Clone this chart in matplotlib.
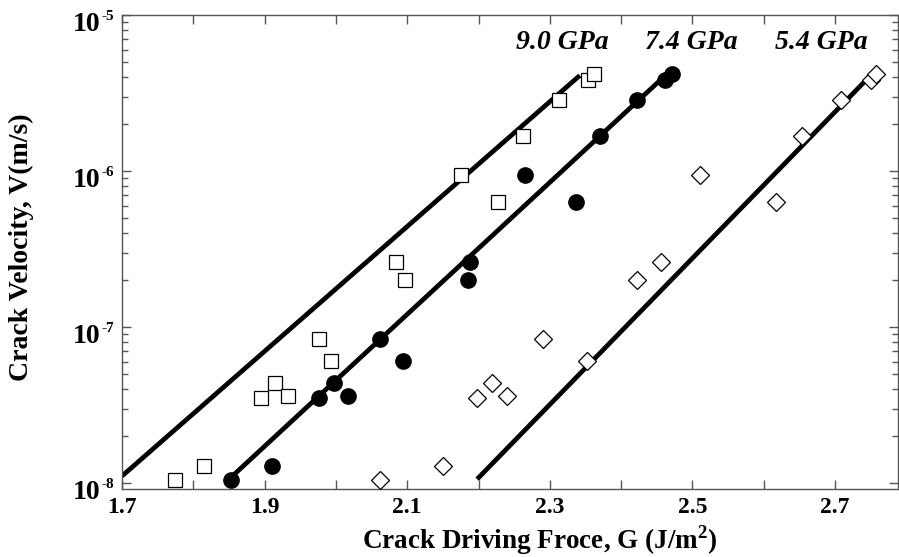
import matplotlib
matplotlib.use('Agg')

import matplotlib.pyplot as plt
import numpy as np
from matplotlib.ticker import FixedLocator, LogLocator, NullFormatter
from matplotlib.transforms import offset_copy

plt.rcParams['font.family'] = ['Liberation Serif', 'DejaVu Serif']
plt.rcParams['mathtext.fontset'] = 'custom'
plt.rcParams['mathtext.rm'] = 'Liberation Serif:bold'
plt.rcParams['mathtext.bf'] = 'Liberation Serif:bold'

# crack velocity (m/s), same set for every pressure
velocity = [1.05e-8, 1.29e-8, 3.5e-8, 4.4e-8, 3.6e-8, 8.4e-8, 6.1e-8, 2.6e-7,
            2.0e-7, 9.4e-7, 6.3e-7, 1.68e-6, 2.85e-6, 3.85e-6, 4.2e-6]

# crack driving force G (J/m^2) per pressure
g_90 = [1.774, 1.815, 1.895, 1.915, 1.933, 1.976, 1.993, 2.084,
        2.097, 2.175, 2.227, 2.262, 2.313, 2.353, 2.362]
g_74 = [1.853, 1.910, 1.976, 1.997, 2.017, 2.062, 2.094, 2.188,
        2.185, 2.265, 2.336, 2.370, 2.422, 2.461, 2.471]
g_54 = [2.062, 2.150, 2.198, 2.219, 2.240, 2.290, 2.352, 2.456,
        2.422, 2.510, 2.617, 2.653, 2.708, 2.750, 2.758]

# fitted lines (end points)
fit_90_g = [1.700, 2.342]
fit_90_v = [1.11e-8, 4.1e-6]
fit_74_g = [1.853, 2.462]
fit_74_v = [1.09e-8, 4.1e-6]
fit_54_g = [2.198, 2.752]
fit_54_v = [1.06e-8, 4.2e-6]

labels = ['9.0 GPa', '7.4 GPa', '5.4 GPa']
label_g = [2.318, 2.499, 2.680]

x_ticks = [1.7, 1.8, 1.9, 2.0, 2.1, 2.2, 2.3, 2.4, 2.5, 2.6, 2.7]
x_ticklabels = ['1.7', '', '1.9', '', '2.1', '', '2.3', '', '2.5', '', '2.7']
y_ticks = [1e-8, 1e-7, 1e-6, 1e-5]
y_exponents = ['-8', '-7', '-6', '-5']

fig = plt.figure(figsize=(8.99, 5.57), dpi=100)
ax = fig.add_axes([0.1357, 0.122, 0.863, 0.851])

line_kw = dict(color='black', linewidth=3.4, solid_capstyle='butt', zorder=2)
ax.plot(fit_90_g, fit_90_v, **line_kw)
ax.plot(fit_74_g, fit_74_v, **line_kw)
ax.plot(fit_54_g, fit_54_v, **line_kw)

ax.plot(g_90, velocity, linestyle='none', marker='s', markersize=9.5,
        markerfacecolor='white', markeredgecolor='black', markeredgewidth=0.9, zorder=3)
ax.plot(g_74, velocity, linestyle='none', marker='o', markersize=11,
        markerfacecolor='black', markeredgecolor='black', zorder=3)
ax.plot(g_54, velocity, linestyle='none', marker='D', markersize=8.8,
        markerfacecolor='white', markeredgecolor='black', markeredgewidth=0.9, zorder=3)

for txt, gx in zip(labels, label_g):
    ax.text(gx, 6.7e-6, txt, ha='center', va='center', fontsize=20,
            fontweight='bold', fontstyle='italic')

ax.set_yscale('log')
ax.set_xlim(1.7, 2.788)
ax.set_ylim(10 ** -8.038, 1e-5)

ax.xaxis.set_major_locator(FixedLocator(x_ticks))
ax.set_xticklabels(x_ticklabels, fontsize=17, fontweight='bold')
ax.yaxis.set_major_locator(FixedLocator(y_ticks))
ax.set_yticklabels([''] * len(y_ticks))
ax.yaxis.set_minor_locator(LogLocator(base=10, subs=np.arange(2, 10)))
ax.yaxis.set_minor_formatter(NullFormatter())

# y tick labels as "10" with a superscript exponent
base_tr = ax.get_yaxis_transform()
for yv, ex in zip(y_ticks, y_exponents):
    ax.text(0, yv, '10', transform=offset_copy(base_tr, fig, x=-22, y=-16, units='dots'),
            ha='right', va='baseline', fontsize=20, fontweight='bold', clip_on=False)
    ax.text(0, yv, ex, transform=offset_copy(base_tr, fig, x=-8, y=-5, units='dots'),
            ha='right', va='baseline', fontsize=11, fontweight='bold', clip_on=False)

edge = '#555555'
for sp in ax.spines.values():
    sp.set_color(edge)
    sp.set_linewidth(1.0)
ax.tick_params(which='both', direction='in', top=True, right=True, color=edge, width=1.0)
ax.tick_params(which='major', length=6.5)
ax.tick_params(which='minor', length=4)
ax.tick_params(axis='x', pad=6)

ax.set_xlabel(r'Crack Driving Froce, G (J/m$^{2}$)', fontsize=19.5, fontweight='bold')
ax.xaxis.set_label_coords(0.539, -0.072)
ax.set_ylabel('Crack Velocity, V(m/s)', fontsize=20, fontweight='bold')
ax.yaxis.set_label_coords(-0.114, 0.51)

fig.savefig('out.png', dpi=100)
